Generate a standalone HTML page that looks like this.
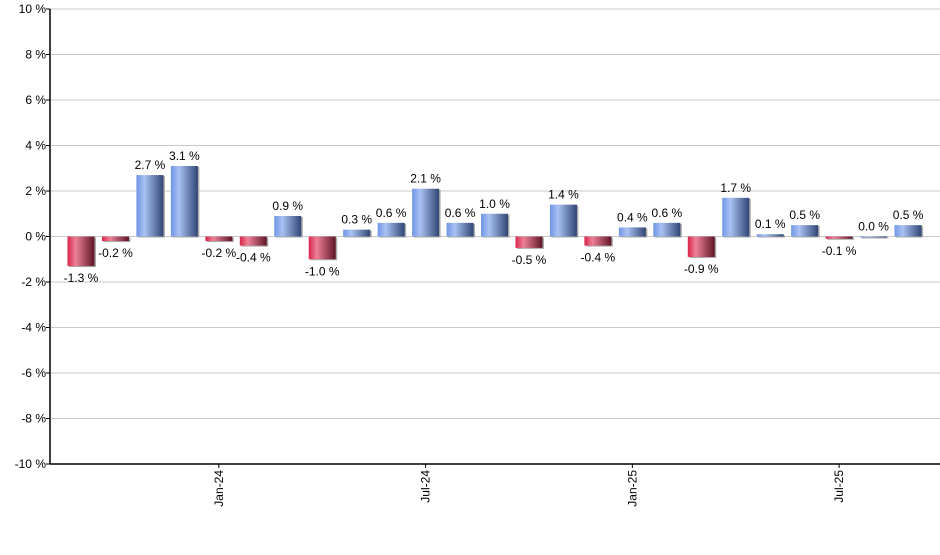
<!DOCTYPE html>
<html><head><meta charset="utf-8"><style>
body{margin:0;background:#fff;}
svg text{font-family:"Liberation Sans",sans-serif;font-size:12px;fill:#000;}
</style></head><body>
<svg width="940" height="550">
<defs>
<linearGradient id="gb" x1="0" x2="1" y1="0" y2="0">
<stop offset="0" stop-color="#6f95e6"/><stop offset="0.3" stop-color="#a9c2f3"/><stop offset="1" stop-color="#2f4575"/></linearGradient>
<linearGradient id="gr" x1="0" x2="1" y1="0" y2="0">
<stop offset="0" stop-color="#d8264a"/><stop offset="0.3" stop-color="#ee8097"/><stop offset="1" stop-color="#5e1526"/></linearGradient>
</defs>
<g id="grid"></g><g id="bars"></g><g id="axes"></g>
</svg>
<script>
const months=["Sep-23","Oct-23","Nov-23","Dec-23","Jan-24","Feb-24","Mar-24","Apr-24","May-24","Jun-24","Jul-24","Aug-24","Sep-24","Oct-24","Nov-24","Dec-24","Jan-25","Feb-25","Mar-25","Apr-25","May-25","Jun-25","Jul-25","Aug-25","Sep-25"];
const values=[-1.3,-0.2,2.7,3.1,-0.2,-0.4,0.9,-1.0,0.3,0.6,2.1,0.6,1.0,-0.5,1.4,-0.4,0.4,0.6,-0.9,1.7,0.1,0.5,-0.1,0.0,0.5];
const yTicks=[-10,-8,-6,-4,-2,0,2,4,6,8,10];
const xTickLabels=["Jan-24","Jul-24","Jan-25","Jul-25"];
const NS="http://www.w3.org/2000/svg";
const L=50,R=940,T=9,B=464;
const y=v=>T+(10-v)/20*(B-T);
const step=34.46;
const x=i=>81+i*step;
function mk(tag,attrs,parent,text){const e=document.createElementNS(NS,tag);for(const k in attrs)e.setAttribute(k,attrs[k]);if(text!==undefined)e.textContent=text;document.getElementById(parent).appendChild(e);return e;}
yTicks.forEach(t=>{
 const g=mk('line',{x1:L,x2:R,y1:y(t),y2:y(t),stroke:'#c8c8c8','stroke-width':1},'grid');
 
 
 const tk=mk('line',{x1:L-4,x2:L,y1:y(t),y2:y(t),stroke:'#000'},'axes');
 
 
 const tx=mk('text',{x:L-4,y:y(t)+4,'text-anchor':'end'},'axes',t+' %');
 
 
});
const ax=mk('line',{x1:L,x2:L,y1:T,y2:B,stroke:'#000','stroke-width':1.5},'axes');


const bx=mk('line',{x1:L,x2:R,y1:B,y2:B,stroke:'#000','stroke-width':1.5},'axes');


values.forEach((v,i)=>{
 const cx=x(i),w=27,y0=y(0),yv=y(v);
 const top=Math.min(y0,yv),h=Math.max(Math.abs(yv-y0),1);
 const sh=mk('rect',{x:cx-w/2+1.5,y:top+1,width:w,height:h,fill:'#aaa'},'bars');
 
 
 const r=mk('rect',{x:cx-w/2,y:top,width:w,height:h,fill:v<0?'url(#gr)':'url(#gb)'},'bars');
 
 
 const ly=v<0?yv+16:yv-6;
 const t=mk('text',{x:cx,y:ly,'text-anchor':'middle'},'bars',v.toFixed(1)+' %');
 
 
});
xTickLabels.forEach(lab=>{
 const i=months.indexOf(lab),cx=x(i);
 const tk=mk('line',{x1:cx,x2:cx,y1:B,y2:B+4,stroke:'#000'},'axes');
 
 
 const t=mk('text',{x:0,y:0,'text-anchor':'end',transform:`translate(${cx+4},${B+6}) rotate(-90)`},'axes',lab);
 
 
});
</script>
</body></html>
